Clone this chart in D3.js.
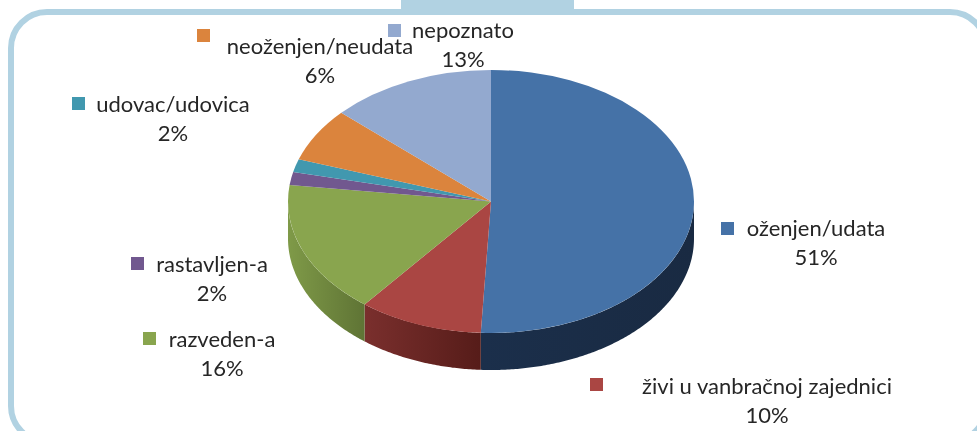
<!DOCTYPE html>
<html lang="en">
<head>
<meta charset="utf-8">
<script src="https://d3js.org/d3.v7.min.js"></script>
<style>
  html, body { margin: 0; padding: 0; background: #fff; overflow: hidden; }
  svg { display: block; filter: blur(0.4px); }
  text { font-family: Lato, "Open Sans", sans-serif; font-size: 22px; fill: #262626; }
</style>
</head>
<body>
<div id="chart"></div>
<script>
var categories = ["oženjen/udata", "živi u vanbračnoj zajednici", "razveden-a", "rastavljen-a", "udovac/udovica", "neoženjen/neudata", "nepoznato"];
var shares = [50.8, 9.9, 16.3, 1.6, 1.6, 6.6, 13.2];
var percentLabels = ["51%", "10%", "16%", "2%", "2%", "6%", "13%"];
var topColors = ["#4572a7", "#aa4643", "#89a54e", "#71588f", "#4198af", "#db843d", "#93a9cf"];
var wallLeft = ["#1b2f4b", "#7a2f2d", "#7f9a48", "#71588f", "#4198af", "#db843d", "#93a9cf"];
var wallRight = ["#192a42", "#561c19", "#5f7435", "#71588f", "#4198af", "#db843d", "#93a9cf"];

// legend key position (x, y of the square) and label anchor, one per category
var keyX = [721, 590, 143, 131, 72, 197, 388];
var keyY = [222, 378, 332, 257, 97, 29, 24];
var labelX = [816, 767, 222, 212, 173, 320, 463];
var labelY = [236, 394, 347, 272, 112, 54, 38];

var width = 977, height = 431;
var cx = 491, cy = 201.5, rx = 203, ry = 131.5, depth = 37;

var svg = d3.select("#chart").append("svg")
  .attr("width", width)
  .attr("height", height);

var defs = svg.append("defs");

// frame
svg.append("rect")
  .attr("x", 11).attr("y", 12)
  .attr("width", 975).attr("height", 430)
  .attr("rx", 36).attr("ry", 36)
  .attr("fill", "none")
  .attr("stroke", "#b1d2e2")
  .attr("stroke-width", 6);

svg.append("rect")
  .attr("x", 401).attr("y", 0)
  .attr("width", 173).attr("height", 12)
  .attr("fill", "#b1d2e2");

var pie = d3.pie().sort(null).value(function (d) { return d; });
var slices = pie(shares);

// side walls, only the front half of the ellipse shows
var wall = d3.area()
  .x(function (a) { return cx + rx * Math.sin(a); })
  .y0(function (a) { return cy - ry * Math.cos(a); })
  .y1(function (a) { return cy - ry * Math.cos(a) + depth; });

slices.forEach(function (s, i) {
  var a0 = Math.max(s.startAngle, Math.PI / 2);
  var a1 = Math.min(s.endAngle, Math.PI * 1.5);
  if (a1 <= a0) return;

  var id = "wall" + i;
  var g = defs.append("linearGradient").attr("id", id);
  g.append("stop").attr("offset", "0%").attr("stop-color", wallLeft[i]);
  g.append("stop").attr("offset", "100%").attr("stop-color", wallRight[i]);

  svg.append("path")
    .attr("d", wall(d3.range(a0, a1, 0.01).concat([a1])))
    .attr("fill", "url(#" + id + ")");
});

// top face, a circle arc squashed to the ellipse
var arc = d3.arc().innerRadius(0).outerRadius(rx);

svg.append("g")
  .attr("transform", "translate(" + cx + "," + cy + ") scale(1," + (ry / rx) + ")")
  .selectAll("path")
  .data(slices)
  .enter()
  .append("path")
  .attr("d", arc)
  .attr("fill", function (d, i) { return topColors[i]; });

// legend keys and labels
categories.forEach(function (name, i) {
  svg.append("rect")
    .attr("x", keyX[i]).attr("y", keyY[i])
    .attr("width", 13).attr("height", 13)
    .attr("fill", topColors[i]);

  svg.append("text")
    .attr("x", labelX[i]).attr("y", labelY[i])
    .attr("text-anchor", "middle")
    .text(name);

  svg.append("text")
    .attr("x", labelX[i]).attr("y", labelY[i] + 29)
    .attr("text-anchor", "middle")
    .text(percentLabels[i]);
});
</script>
</body>
</html>
